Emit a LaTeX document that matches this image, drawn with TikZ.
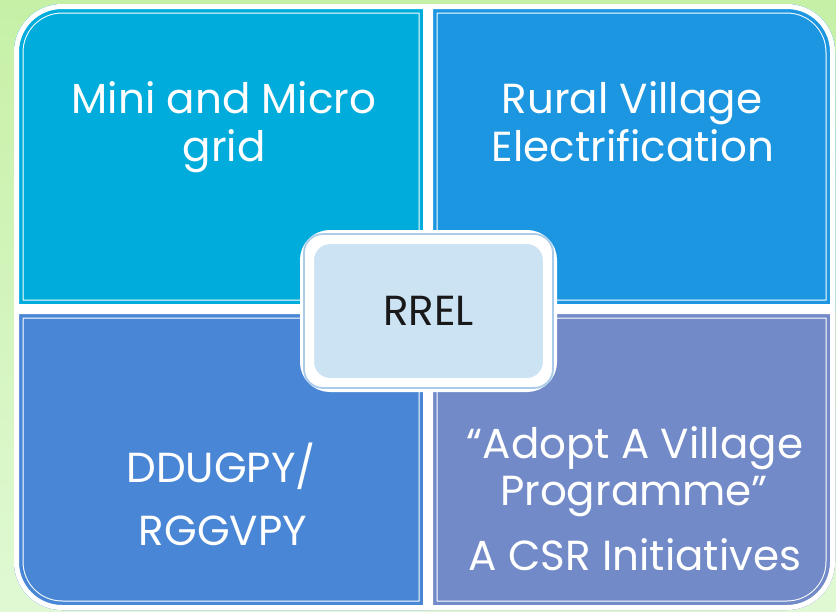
\documentclass[tikz,border=0pt]{standalone}
\usepackage{fontspec}
\setmainfont{Poppins}
\usetikzlibrary{calc}
\definecolor{minicol}{RGB}{0,172,219}
\definecolor{ruralcol}{RGB}{28,150,225}
\definecolor{ddugcol}{RGB}{73,134,213}
\definecolor{adoptcol}{RGB}{114,138,200}
\definecolor{rrelfill}{RGB}{204,227,244}
\definecolor{rrelline}{RGB}{168,204,234}
\definecolor{greentop}{RGB}{198,240,166}
\definecolor{greenbot}{RGB}{224,249,212}

\begin{document}
\begin{tikzpicture}[x=1pt,y=-1pt,
	quadtext/.style={text=white, anchor=base, inner sep=0pt, font=\fontsize{42}{48}\selectfont},
	rrelbox/.style={rectangle, rounded corners=23pt, fill=rrelfill, draw=white, line width=14pt,
		minimum width=243pt, minimum height=148pt, text=black!90, font=\fontsize{42}{48}\selectfont},
	]
	\useasboundingbox (0,0) rectangle (836,611);
	%Background
	\shade[top color=greentop, bottom color=greenbot] (0,0) rectangle (836,611);

	%Quadrants
	\foreach \ox/\oy/\ix/\iy/\col in {14/4/428/309/minicol, 835/4/428/309/ruralcol,
			14/610/428/309/ddugcol, 835/610/428/309/adoptcol}{
		\begin{scope}
			\clip (\ox,\iy) [rounded corners=48pt] -- (\ox,\oy) [sharp corners] -- (\ix,\oy) -- (\ix,\iy) -- cycle;
			\fill[\col] (0,0) rectangle (836,611);
			\draw[draw=white, line width=1pt, double=\col, double distance=17pt]
				(\ox,\iy) [rounded corners=48pt] -- (\ox,\oy) [sharp corners] -- (\ix,\oy) -- (\ix,\iy) -- cycle;
			\draw[white, line width=10pt]
				(\ox,\iy) [rounded corners=48pt] -- (\ox,\oy) [sharp corners] -- (\ix,\oy) -- (\ix,\iy) -- cycle;
		\end{scope}
	}

	%Centre
	\node[rrelbox] (rrel) at (428.5,311) {RREL};
	\draw[rrelline, line width=1.8pt, rounded corners=19pt]
		($(rrel.north west)+(4,4)$) rectangle ($(rrel.south east)+(-4,-4)$);

	%Labels
	\node[quadtext] (mini1)   at (224,113) {Mini and Micro};
	\node[quadtext] (mini2)   at (224,161) {grid};
	\node[quadtext] (rural1)  at (632,113) {Rural Village};
	\node[quadtext] (rural2)  at (633,161) {Electrification};
	\node[quadtext] (ddug1)   at (221,482) {DDUGPY/};
	\node[quadtext] (ddug2)   at (223,545) {RGGVPY};
	\node[quadtext] (adopt1)  at (635,458) {“Adopt A Village};
	\node[quadtext] (adopt2)  at (634,505) {Programme”};
	\node[quadtext] (adopt3)  at (635,570) {A CSR Initiatives};
\end{tikzpicture}
\end{document}
